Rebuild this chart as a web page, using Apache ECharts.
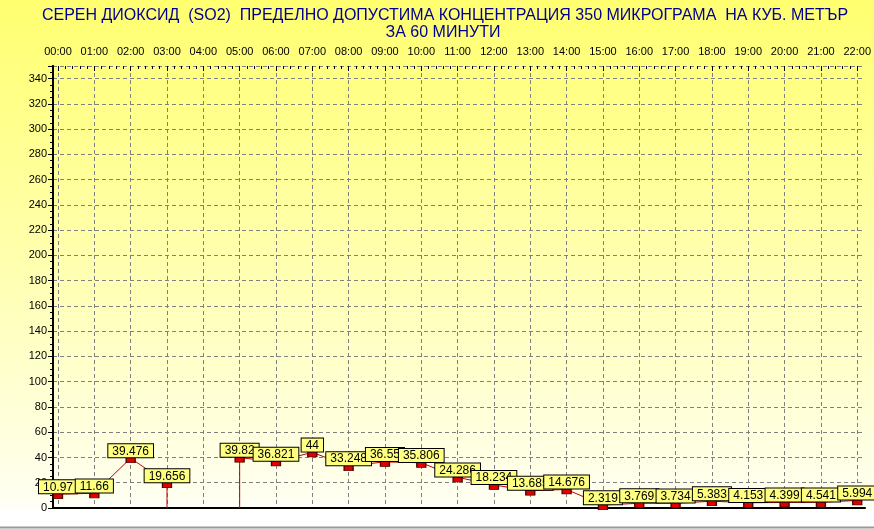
<!DOCTYPE html>
<html>
<head>
<meta charset="utf-8">
<script src="https://cdn.jsdelivr.net/npm/echarts@6/dist/echarts.min.js"></script>
<style>html,body{margin:0;padding:0;}#c{width:874px;height:529px;}</style>
</head>
<body>
<div id="c"></div>
<script>
const titleLines = ['СЕРЕН ДИОКСИД  (SO2)  ПРЕДЕЛНО ДОПУСТИМА КОНЦЕНТРАЦИЯ 350 МИКРОГРАМА  НА КУБ. МЕТЪР', 'ЗА 60 МИНУТИ'];
const hourLabels = ['00:00','01:00','02:00','03:00','04:00','05:00','06:00','07:00','08:00','09:00','10:00','11:00','12:00','13:00','14:00','15:00','16:00','17:00','18:00','19:00','20:00','21:00','22:00'];
const so2Values = [10.97, 11.66, 39.476, 19.656, null, 39.82, 36.821, 44, 33.248, 36.55, 35.806, 24.286, 18.234, 13.685, 14.676, 2.319, 3.769, 3.734, 5.383, 4.153, 4.399, 4.541, 5.994];
const yMax = 350, yStep = 20;

// line path: missing hours drop to zero
const lineData = [];
so2Values.forEach((v, i) => {
  if (v == null) {
    if (i > 0 && so2Values[i-1] != null) lineData.push([i-1, 0]);
    lineData.push([i, null]);
  } else {
    if (i > 0 && so2Values[i-1] == null) lineData.push([i, 0]);
    lineData.push([i, v]);
  }
});
const pointData = [];
so2Values.forEach((v, i) => { if (v != null) pointData.push([i, v]); });

const chart = echarts.init(document.getElementById('c'));
const font = "Arial, 'Liberation Sans', sans-serif";
const titleStyle = {fontFamily: font, fontSize: 16, fill: '#000090', textAlign: 'center', textVerticalAlign: 'middle'};
chart.setOption({
  animation: false,
  backgroundColor: new echarts.graphic.LinearGradient(0, 0, 0, 1, [
    {offset: 0, color: '#ffff70'},
    {offset: 0.5, color: '#ffffb0'},
    {offset: 0.94, color: '#fffff0'},
    {offset: 0.97, color: '#ffffff'},
    {offset: 1, color: '#ffffff'}
  ]),
  graphic: [
    {type: 'text', x: 445, y: 16, style: Object.assign({text: titleLines[0]}, titleStyle)},
    {type: 'text', x: 443, y: 33, style: Object.assign({text: titleLines[1]}, titleStyle)},
    {type: 'line', shape: {x1: 0, y1: 527.5, x2: 874, y2: 527.5}, style: {stroke: '#9a9a9a', lineWidth: 2}}
  ],
  grid: [
    {left: 53, right: 9, top: 66, bottom: 21},
    {left: 58, right: 14, top: 66, bottom: 21}
  ],
  xAxis: [
    {gridIndex: 0, type: 'value', min: 0, max: 1, position: 'top',
     axisLine: {show: true, lineStyle: {color: '#000', width: 2}}, axisTick: {show: false}, axisLabel: {show: false}, splitLine: {show: false}},
    {gridIndex: 0, type: 'value', min: 0, max: 1, position: 'bottom',
     axisLine: {show: true, lineStyle: {color: '#000', width: 1, type: [3, 2]}}, axisTick: {show: false}, axisLabel: {show: false}, splitLine: {show: false}},
    {gridIndex: 1, type: 'category', data: hourLabels, boundaryGap: false, position: 'top',
     axisLine: {show: false},
     axisTick: {show: false},
     axisLabel: {fontFamily: font, fontSize: 11, color: '#000', margin: 9, interval: 0},
     splitLine: {show: true, lineStyle: {color: '#808080', type: [4, 3]}}},
    {gridIndex: 1, type: 'value', min: 0, max: hourLabels.length - 1, interval: 1, position: 'top',
     axisLine: {show: false}, axisLabel: {show: false}, splitLine: {show: false},
     axisTick: {show: true, inside: true, length: 5, lineStyle: {color: '#000'}},
     minorTick: {show: true, splitNumber: 5, length: 3, lineStyle: {color: '#000'}}}
  ],
  yAxis: [
    {gridIndex: 0, type: 'value', min: 0, max: yMax, interval: yStep,
     axisLine: {show: true, lineStyle: {color: '#000', width: 2}},
     axisTick: {show: true, length: 5, lineStyle: {color: '#000'}},
     minorTick: {show: true, splitNumber: 4, length: 3, lineStyle: {color: '#000'}},
     axisLabel: {fontFamily: font, fontSize: 11, color: '#000', margin: 6,
       formatter: v => (v >= yMax ? '' : String(v))},
     splitLine: {show: true, lineStyle: {color: '#808080', type: [4, 3]}}},
    {gridIndex: 0, type: 'value', min: 0, max: yMax, position: 'right',
     axisLine: {show: true, lineStyle: {color: '#000', width: 2}}, axisTick: {show: false}, axisLabel: {show: false}, splitLine: {show: false}},
    {gridIndex: 1, type: 'value', min: 0, max: yMax, show: false}
  ],
  series: [
    {type: 'line', xAxisIndex: 3, yAxisIndex: 2, data: lineData, showSymbol: false, connectNulls: false,
     lineStyle: {color: '#c00000', width: 1}, z: 3},
    {type: 'scatter', xAxisIndex: 3, yAxisIndex: 2, data: pointData, symbol: 'rect', symbolSize: [9, 5], symbolOffset: [0, 2],
     itemStyle: {color: '#e00000', borderColor: '#500000', borderWidth: 1, opacity: 1}, z: 4,
     label: {show: true, position: 'top', distance: 0, formatter: p => String(p.value[1]),
       backgroundColor: '#ffff80', borderColor: '#000', borderWidth: 1, padding: [1, 4, 0, 4], lineHeight: 12,
       fontFamily: font, fontSize: 12, color: '#000'}}
  ]
});
</script>
</body>
</html>
